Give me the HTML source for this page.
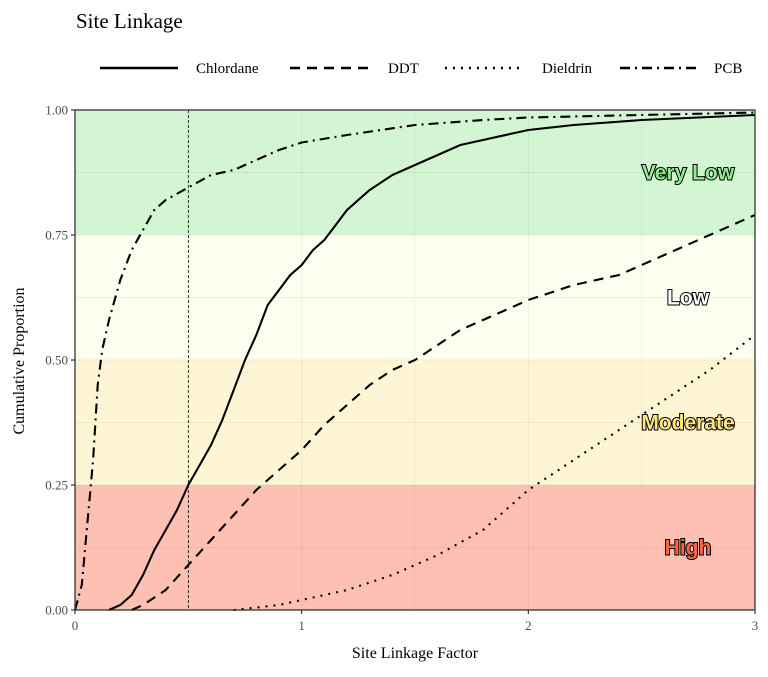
<!DOCTYPE html>
<html><head><meta charset="utf-8"><style>
body{margin:0;background:#fff}
svg text{font-family:"Liberation Serif",serif}
</style></head><body>
<svg id="chart" width="768" height="672" xmlns="http://www.w3.org/2000/svg">
<text x="76" y="28" font-size="21" fill="#000">Site Linkage</text>
<g id="legend"></g>
<g id="bands"></g>
<g id="grid"></g>
<g id="series"></g>
<g id="axes"></g>
<text x="415" y="658" font-size="16" text-anchor="middle">Site Linkage Factor</text>
<text transform="translate(24,361) rotate(-90)" font-size="16" text-anchor="middle">Cumulative Proportion</text>
</svg>
<script>
const xTicks=[0,1,2,3];
const yTicks=[0,0.25,0.5,0.75,1];
const yTickLabels=["0.00","0.25","0.50","0.75","1.00"];
const bandNames=["High","Moderate","Low","Very Low"];
const bandLo=[0,0.25,0.5,0.75];
const bandHi=[0.25,0.5,0.75,1];
const refX=0.5;
const seriesNames=["Chlordane","DDT","Dieldrin","PCB"];
const chlX=[0.15,0.2,0.25,0.3,0.35,0.4,0.45,0.5,0.55,0.6,0.65,0.7,0.75,0.8,0.85,0.9,0.95,1.0,1.05,1.1,1.15,1.2,1.3,1.4,1.5,1.6,1.7,1.8,2.0,2.2,2.5,3.0];
const chlY=[0,0.01,0.03,0.07,0.12,0.16,0.2,0.25,0.29,0.33,0.38,0.44,0.5,0.55,0.61,0.64,0.67,0.69,0.72,0.74,0.77,0.8,0.84,0.87,0.89,0.91,0.93,0.94,0.96,0.97,0.98,0.99];
const ddtX=[0.25,0.3,0.4,0.5,0.6,0.7,0.8,0.9,1.0,1.1,1.2,1.3,1.4,1.5,1.6,1.7,1.8,1.9,2.0,2.2,2.4,2.6,2.8,3.0];
const ddtY=[0,0.01,0.04,0.09,0.14,0.19,0.24,0.28,0.32,0.37,0.41,0.45,0.48,0.5,0.53,0.56,0.58,0.6,0.62,0.65,0.67,0.71,0.75,0.79];
const dieX=[0.7,0.9,1.0,1.2,1.4,1.6,1.8,1.9,2.0,2.1,2.2,2.4,2.6,2.8,3.0];
const dieY=[0,0.01,0.02,0.04,0.07,0.11,0.16,0.2,0.24,0.27,0.3,0.36,0.42,0.48,0.55];
const pcbX=[0,0.03,0.05,0.08,0.1,0.12,0.15,0.2,0.25,0.3,0.35,0.4,0.5,0.6,0.7,0.8,0.9,1.0,1.2,1.5,1.8,2.0,2.5,3.0];
const pcbY=[0,0.05,0.15,0.3,0.45,0.52,0.58,0.66,0.72,0.76,0.8,0.82,0.845,0.87,0.88,0.9,0.92,0.935,0.95,0.97,0.98,0.985,0.99,0.995];

const NS="http://www.w3.org/2000/svg";
const L=75,R=755,T=110,B=610;
const xs=v=>L+v/3*(R-L);
const ys=v=>B-v*(B-T);
function mk(tag,attrs,parent){const e=document.createElementNS(NS,tag);for(const k in attrs)e.setAttribute(k,attrs[k]);parent.appendChild(e);return e;}
const bandFill=["#ffc0b4","#fef5d4","#fefef0","#d4f5d4"];
const labFill=["#ff6347","#ffe680","#ffffff","#90ee90"];
const bands=document.getElementById('bands');
bandNames.forEach((n,i)=>{
  const r=mk('rect',{x:L,y:ys(bandHi[i]),width:R-L,height:ys(bandLo[i])-ys(bandHi[i]),fill:bandFill[i]},bands);
  
  
});
const grid=document.getElementById('grid');
[0.5,1,1.5,2,2.5].forEach(v=>{
  const l=mk('line',{x1:xs(v),x2:xs(v),y1:T,y2:B,stroke:"rgba(0,0,0,0.06)","stroke-width":v%1?0.6:1},grid);
  
  
});
[0.125,0.25,0.375,0.5,0.625,0.75,0.875].forEach(v=>{
  const l=mk('line',{x1:L,x2:R,y1:ys(v),y2:ys(v),stroke:"rgba(0,0,0,0.06)","stroke-width":1},grid);
  
  
});
const ser=document.getElementById('series');
const dashes=["","10,7","2,6","10,5,2,5"];
const data=[[chlX,chlY],[ddtX,ddtY],[dieX,dieY],[pcbX,pcbY]];
data.forEach((d,i)=>{
  const pts=d[0].map((x,j)=>xs(x).toFixed(1)+","+ys(d[1][j]).toFixed(1)).join(" ");
  const p=mk('polyline',{points:pts,fill:"none",stroke:"#000","stroke-width":2.1,"stroke-dasharray":dashes[i]},ser);
  
  
});
const rl=mk('line',{x1:xs(refX),x2:xs(refX),y1:T,y2:B,stroke:"#000","stroke-width":0.8,"stroke-dasharray":"3,2"},ser);


const ly=[0.125,0.375,0.625,0.875];
bandNames.forEach((n,i)=>{
  const t=mk('text',{x:688,y:ys(ly[i])+7,"font-size":21,"font-weight":"bold","text-anchor":"middle",fill:labFill[i],stroke:"#000","stroke-width":2,"paint-order":"stroke",style:"font-family:'Liberation Sans',sans-serif"},ser);
  t.textContent=n;
  
  
});
const ax=document.getElementById('axes');
const fr=mk('rect',{x:L,y:T,width:R-L,height:B-T,fill:"none",stroke:"#333","stroke-width":1.3},ax);


xTicks.forEach(v=>{
  const l=mk('line',{x1:xs(v),x2:xs(v),y1:B,y2:B+4,stroke:"#333","stroke-width":1.2},ax);
  
  
  const t=mk('text',{x:xs(v),y:B+20,"font-size":13,"text-anchor":"middle",fill:"#4d4d4d"},ax);
  t.textContent=v;
  
  
});
yTicks.forEach((v,i)=>{
  const l=mk('line',{x1:L-4,x2:L,y1:ys(v),y2:ys(v),stroke:"#333","stroke-width":1.2},ax);
  
  
  const t=mk('text',{x:L-7,y:ys(v)+4.5,"font-size":13,"text-anchor":"end",fill:"#4d4d4d"},ax);
  t.textContent=yTickLabels[i];
  
  
});
const lg=document.getElementById('legend');
const lgLine=[100,290,445,620];
const lgText=[196,388,542,714];
seriesNames.forEach((n,i)=>{
  const l=mk('line',{x1:lgLine[i],x2:lgLine[i]+78,y1:68,y2:68,stroke:"#000","stroke-width":2.5,"stroke-dasharray":dashes[i]},lg);
  
  
  const t=mk('text',{x:lgText[i],y:73,"font-size":15,fill:"#000"},lg);
  t.textContent=n;
  
  
});
</script>
</body></html>
